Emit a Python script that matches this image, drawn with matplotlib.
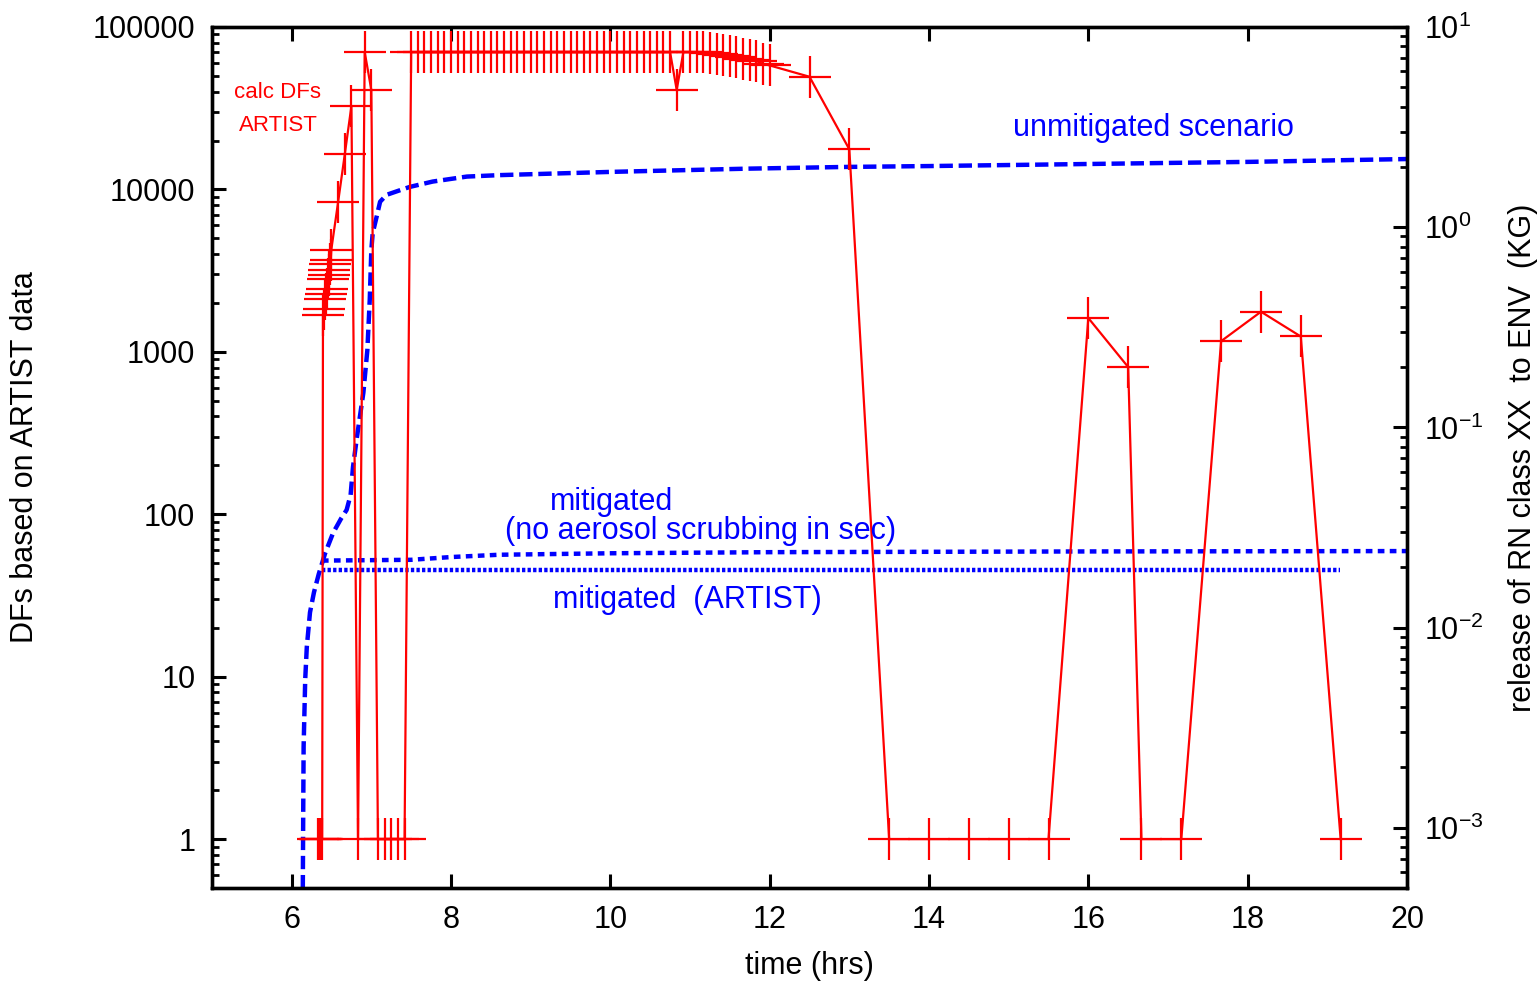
import matplotlib
matplotlib.use("Agg")
import matplotlib.pyplot as plt
from matplotlib.ticker import FixedLocator, FixedFormatter, LogLocator, NullFormatter

plt.rcParams['font.family'] = ['Liberation Sans', 'DejaVu Sans']
plt.rcParams['mathtext.fontset'] = 'custom'
plt.rcParams['mathtext.rm'] = 'Liberation Sans'
plt.rcParams['mathtext.it'] = 'Liberation Sans:italic'

# ---------------- data ----------------
# calc DFs ARTIST (left axis)
df_time = [6.333, 6.350, 6.367, 6.383,
           6.393, 6.402, 6.418, 6.427, 6.447, 6.458, 6.465, 6.472, 6.485, 6.490, 6.497,
           6.583, 6.667, 6.750, 6.833, 6.917, 7.000, 7.083, 7.167, 7.250, 7.333, 7.417,
           7.500, 7.583, 7.667, 7.750, 7.833, 7.917, 8.000, 8.083, 8.167, 8.250,
           8.333, 8.417, 8.500, 8.583, 8.667, 8.750, 8.833, 8.917, 9.000, 9.083,
           9.167, 9.250, 9.333, 9.417, 9.500, 9.583, 9.667, 9.750, 9.833, 9.917,
           10.000, 10.083, 10.167, 10.250, 10.333, 10.417, 10.500, 10.583, 10.667, 10.750,
           10.833, 10.917, 11.000, 11.083, 11.167, 11.250, 11.333, 11.417, 11.500, 11.583,
           11.667, 11.750, 11.833, 11.917, 12.000,
           12.5, 13.0, 13.5, 14.0, 14.5, 15.0, 15.5, 16.0, 16.5, 16.667,
           17.167, 17.667, 18.167, 18.667, 19.167]
df_value = [1, 1, 1, 1,
            1686, 1835, 2114, 2259, 2426, 2808, 2972, 3190, 3457, 3673, 4236,
            8360, 16500, 32600, 1, 70000, 40900, 1, 1, 1, 1, 1,
            70000, 70000, 70000, 70000, 70000, 70000, 70000, 70000, 70000, 70000,
            70000, 70000, 70000, 70000, 70000, 70000, 70000, 70000, 70000, 70000,
            70000, 70000, 70000, 70000, 70000, 70000, 70000, 70000, 70000, 70000,
            70000, 70000, 70000, 70000, 70000, 70000, 70000, 70000, 70000, 70000,
            41000, 70000, 70000, 70000, 70000, 69000, 68000, 67500, 66500, 65000,
            63500, 62500, 61600, 59300, 58000,
            49400, 17650, 1, 1, 1, 1, 1, 1615, 806, 1,
            1, 1164, 1766, 1243, 1]

# unmitigated scenario release (right axis, kg)
unmit_time = [6.13, 6.14, 6.145, 6.15, 6.17, 6.19, 6.23, 6.28, 6.34, 6.42, 6.52, 6.62,
              6.69, 6.74, 6.77, 6.82, 6.90, 6.95, 6.98, 7.00, 7.017, 7.067, 7.11, 7.19,
              7.36, 7.485, 7.77, 8.2, 8.61, 10.03, 11.71, 12.97, 14.01, 16.06, 18.03, 20.0]
unmit_rel = [4.0e-4, 5.1e-4, 1.19e-3, 2.54e-3, 5.5e-3, 8.0e-3, 0.0119, 0.0150, 0.0185,
             0.0235, 0.0297, 0.0350, 0.0387, 0.0460, 0.0635, 0.0897, 0.149, 0.243,
             0.433, 0.77, 0.933, 1.13, 1.34, 1.45, 1.53, 1.59, 1.69, 1.79, 1.82, 1.89,
             1.96, 2.0, 2.02, 2.07, 2.12, 2.19]

# mitigated (no aerosol scrubbing in sec)
mit_time = [6.38, 7.5, 8.0, 8.6, 10.0, 12.0, 16.0, 20.0]
mit_rel = [0.0216, 0.0218, 0.0225, 0.0231, 0.0235, 0.0238, 0.0240, 0.0241]

# mitigated (ARTIST)
art_time = [6.38, 10.0, 15.0, 19.16]
art_rel = [0.0193, 0.0193, 0.0193, 0.0193]

x_ticks = [6, 8, 10, 12, 14, 16, 18, 20]
x_labels = ['6', '8', '10', '12', '14', '16', '18', '20']
left_ticks = [1, 10, 100, 1000, 10000, 100000]
left_labels = ['1', '10', '100', '1000', '10000', '100000']
right_ticks = [1e-3, 1e-2, 1e-1, 1e0, 1e1]
right_labels = [r'$\mathregular{10^{-3}}$', r'$\mathregular{10^{-2}}$',
                r'$\mathregular{10^{-1}}$', r'$\mathregular{10^{0}}$',
                r'$\mathregular{10^{1}}$']

RED = '#ff0000'
BLUE = '#0000ff'
FS = 22

fig = plt.figure(figsize=(15.39, 9.82), dpi=100)
ax = fig.add_axes([212 / 1539, 1 - 888 / 982, 1195 / 1539, 861 / 982])
ax2 = ax.twinx()

# blue series (right axis)
ax2.plot(unmit_time, unmit_rel, color=BLUE, lw=3.2, dashes=(3.0, 1.3),
         dash_capstyle='butt', solid_capstyle='butt')
ax2.plot(mit_time, mit_rel, color=BLUE, lw=3.2, dashes=(1.5, 1.2), dash_capstyle='butt')
ax2.plot(art_time, art_rel, color=BLUE, lw=3.2, dashes=(0.75, 0.5), dash_capstyle='butt')

# red series (left axis)
ax.plot(df_time, df_value, color=RED, lw=1.6, marker='+', markersize=30,
        markeredgewidth=1.6, clip_on=True)

ax.set_zorder(ax2.get_zorder() + 1)
ax.patch.set_visible(False)

ax.set_xlim(5, 20)
ax.set_yscale('log')
ax.set_ylim(0.5, 100000)
ax2.set_yscale('log')
ax2.set_ylim(5e-4, 10)

ax.xaxis.set_major_locator(FixedLocator(x_ticks))
ax.xaxis.set_major_formatter(FixedFormatter(x_labels))
ax.yaxis.set_major_locator(FixedLocator(left_ticks))
ax.yaxis.set_major_formatter(FixedFormatter(left_labels))
ax.yaxis.set_minor_locator(LogLocator(base=10, subs=range(2, 10), numticks=20))
ax.yaxis.set_minor_formatter(NullFormatter())
ax2.yaxis.set_major_locator(FixedLocator(right_ticks))
ax2.yaxis.set_major_formatter(FixedFormatter(right_labels))
ax2.yaxis.set_minor_locator(LogLocator(base=10, subs=range(2, 10), numticks=20))
ax2.yaxis.set_minor_formatter(NullFormatter())

for a in (ax, ax2):
    for s in a.spines.values():
        s.set_linewidth(2.4)

ax.tick_params(axis='x', which='major', direction='in', length=10, width=2.2,
               top=True, bottom=True, labelsize=FS, pad=12)
ax.tick_params(axis='y', which='major', direction='in', length=10, width=2.2,
               left=True, right=False, labelsize=FS, pad=12)
ax.tick_params(axis='y', which='minor', direction='in', length=5, width=2.0,
               left=True, right=False)
ax2.tick_params(axis='y', which='major', direction='in', length=10, width=2.2,
                right=True, left=False, labelsize=FS, pad=12)
ax2.tick_params(axis='y', which='minor', direction='in', length=5, width=2.0,
                right=True, left=False)

ax.set_xlabel('time (hrs)', fontsize=FS, labelpad=12)
ax.set_ylabel('DFs based on ARTIST data', fontsize=FS, labelpad=38)
ax2.set_ylabel('release of RN class XX  to ENV  (KG)', fontsize=FS, labelpad=18)

tr = ax.transAxes
ax.text(0.0544, 0.9245, 'calc DFs', color=RED, fontsize=16, ha='center', va='center', transform=tr)
ax.text(0.0552, 0.886, 'ARTIST', color=RED, fontsize=16, ha='center', va='center', transform=tr)
ax.text(0.788, 0.8827, 'unmitigated scenario', color=BLUE, fontsize=FS, ha='center', va='center', transform=tr)
ax.text(0.3347, 0.4483, 'mitigated', color=BLUE, fontsize=FS, ha='center', va='center', transform=tr)
ax.text(0.4092, 0.4146, '(no aerosol scrubbing in sec)', color=BLUE, fontsize=FS, ha='center', va='center', transform=tr)
ax.text(0.3975, 0.3345, 'mitigated  (ARTIST)', color=BLUE, fontsize=FS, ha='center', va='center', transform=tr)

fig.savefig('out.png', dpi=100)
